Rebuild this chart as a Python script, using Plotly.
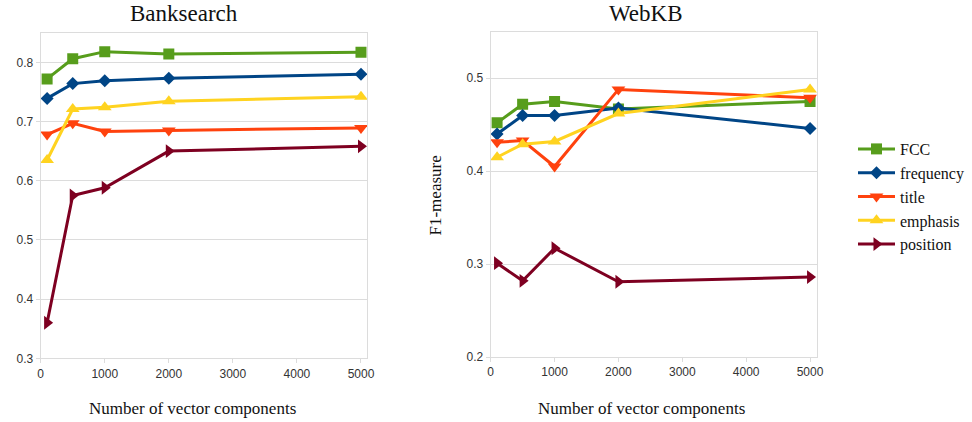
import plotly.graph_objects as go

x_vals = [100, 500, 1000, 2000, 5000]
series_names = ["FCC", "frequency", "title", "emphasis", "position"]

bank_fcc = [0.772, 0.806, 0.818, 0.814, 0.817]
bank_freq = [0.739, 0.764, 0.769, 0.773, 0.780]
bank_title = [0.678, 0.697, 0.683, 0.685, 0.689]
bank_emph = [0.635, 0.721, 0.724, 0.734, 0.742]
bank_pos = [0.360, 0.575, 0.588, 0.650, 0.658]

web_fcc = [0.452, 0.472, 0.475, 0.467, 0.475]
web_freq = [0.440, 0.460, 0.460, 0.468, 0.446]
web_title = [0.431, 0.433, 0.405, 0.488, 0.479]
web_emph = [0.415, 0.429, 0.432, 0.462, 0.488]
web_pos = [0.301, 0.282, 0.317, 0.281, 0.286]

colors = ["#579D1C", "#004586", "#FF420E", "#FFD320", "#7E0021"]
symbols = ["square", "diamond", "triangle-down", "triangle-up", "triangle-right"]
sizes = [11, 10, 12, 12, 12]

bank = [bank_fcc, bank_freq, bank_title, bank_emph, bank_pos]
web = [web_fcc, web_freq, web_title, web_emph, web_pos]

serif = "Liberation Serif, Times New Roman, serif"

fig = go.Figure()
for i in range(5):
    fig.add_trace(go.Scatter(
        x=x_vals, y=bank[i], name=series_names[i], mode="lines+markers",
        line=dict(color=colors[i], width=3),
        marker=dict(symbol=symbols[i], size=sizes[i], color=colors[i]),
        xaxis="x", yaxis="y", showlegend=True, legendrank=i + 1))
for i in range(5):
    fig.add_trace(go.Scatter(
        x=x_vals, y=web[i], name=series_names[i], mode="lines+markers",
        line=dict(color=colors[i], width=3),
        marker=dict(symbol=symbols[i], size=sizes[i], color=colors[i]),
        xaxis="x2", yaxis="y2", showlegend=False))

W, H = 972, 422
grid = "#dcdcdc"
tickfont = dict(family="Liberation Sans", size=12, color="#333333")
axis_common = dict(showline=True, linecolor=grid, mirror=True, gridcolor=grid,
                   ticks="outside", ticklen=4, tickcolor=grid, tickfont=tickfont,
                   zeroline=False, automargin=False)

fig.update_layout(
    width=W, height=H,
    font=dict(family=serif, size=16, color="#111111"),
    margin=dict(l=0, r=0, t=0, b=0),
    paper_bgcolor="white", plot_bgcolor="white",
    xaxis=dict(domain=[40.7 / W, 367 / W], range=[0, 5094], tickvals=[0, 1000, 2000, 3000, 4000, 5000],
               showgrid=False, anchor="y", **axis_common),
    yaxis=dict(domain=[1 - 358.3 / H, 1 - 32.7 / H], range=[0.3, 0.85], tickvals=[0.3, 0.4, 0.5, 0.6, 0.7, 0.8],
               tickformat=".1f", showgrid=True, anchor="x", **axis_common),
    xaxis2=dict(domain=[490.7 / W, 817 / W], range=[0, 5109], tickvals=[0, 1000, 2000, 3000, 4000, 5000],
                showgrid=False, anchor="y2", **axis_common),
    yaxis2=dict(domain=[1 - 357 / H, 1 - 31.8 / H], range=[0.2, 0.55], tickvals=[0.2, 0.3, 0.4, 0.5],
                tickformat=".1f", showgrid=True, anchor="x2", **axis_common),
    legend=dict(x=853 / W, y=1 - 132 / H, xanchor="left", yanchor="top",
                font=dict(family=serif, size=16, color="#111111"),
                bgcolor="rgba(0,0,0,0)", itemwidth=37, tracegroupgap=0),
    showlegend=True,
)

annos = [
    dict(text="Banksearch", x=184 / W, y=1 - 13 / H, font=dict(family=serif, size=23, color="#111111")),
    dict(text="WebKB", x=645.5 / W, y=1 - 13 / H, font=dict(family=serif, size=23, color="#111111")),
    dict(text="Number of vector components", x=192 / W, y=1 - 408 / H, font=dict(family=serif, size=17, color="#111111")),
    dict(text="Number of vector components", x=641.5 / W, y=1 - 408 / H, font=dict(family=serif, size=17, color="#111111")),
    dict(text="F1-measure", x=434.5 / W, y=1 - 196 / H, textangle=-90, font=dict(family=serif, size=17, color="#111111")),
]
for a in annos:
    fig.add_annotation(xref="paper", yref="paper", xanchor="center", yanchor="middle",
                       showarrow=False, **a)

fig.write_html("out.html")
